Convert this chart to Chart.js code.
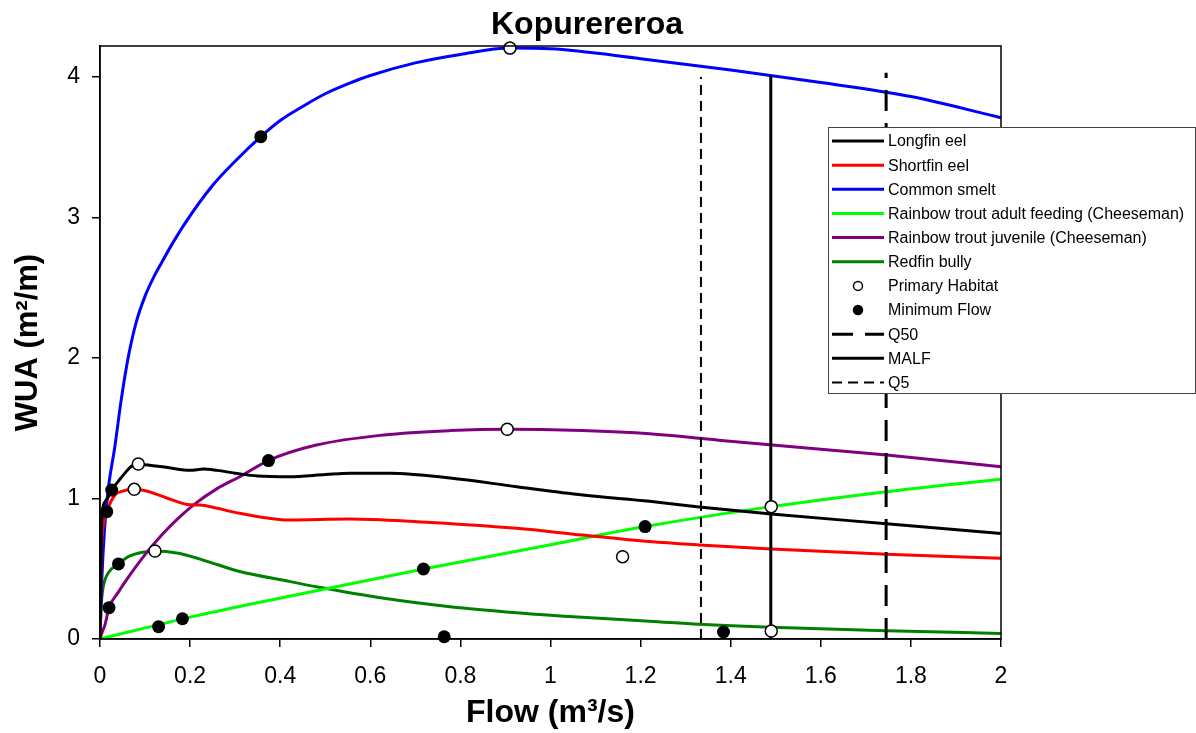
<!DOCTYPE html>
<html>
<head>
<meta charset="utf-8">
<title>Kopurereroa</title>
<script src="https://cdn.jsdelivr.net/npm/chart.js@4.4.0/dist/chart.umd.min.js"></script>
<style>
  html, body { margin: 0; padding: 0; background: #fff; }
</style>
</head>
<body>
<canvas id="chart" width="1196" height="733"></canvas>
<script>
// WUA curves: flow (m3/s) vs WUA (m2/m)
const longfinFlow = [0, 0.004, 0.01, 0.02, 0.026, 0.04, 0.055, 0.07, 0.085, 0.1, 0.15, 0.2, 0.23, 0.26, 0.3, 0.35, 0.42, 0.5, 0.555, 0.644, 0.777, 0.925, 1.072, 1.22, 1.33, 1.49, 1.746, 2.0];
const longfinWua = [0, 0.85, 0.97, 1.02, 1.06, 1.12, 1.18, 1.23, 1.245, 1.24, 1.22, 1.2, 1.21, 1.2, 1.18, 1.16, 1.155, 1.17, 1.18, 1.18, 1.146, 1.084, 1.025, 0.98, 0.94, 0.89, 0.82, 0.75];

const shortfinFlow = [0, 0.003, 0.008, 0.015, 0.033, 0.048, 0.076, 0.107, 0.151, 0.2, 0.222, 0.26, 0.31, 0.42, 0.555, 0.703, 0.925, 1.07, 1.22, 1.33, 1.49, 1.746, 2.0];
const shortfinWua = [0, 0.6, 0.82, 0.906, 1.025, 1.05, 1.065, 1.05, 1.0, 0.955, 0.954, 0.93, 0.895, 0.847, 0.854, 0.835, 0.788, 0.74, 0.693, 0.669, 0.64, 0.603, 0.574];

const smeltFlow = [0, 0.004, 0.01, 0.018, 0.033, 0.047, 0.063, 0.08, 0.1, 0.12, 0.137, 0.16, 0.189, 0.248, 0.3, 0.357, 0.4, 0.45, 0.5, 0.55, 0.6, 0.7, 0.8, 0.91, 1.0, 1.2, 1.4, 1.6, 1.8, 2.0];
const smeltWua = [0, 0.42, 0.78, 1.06, 1.37, 1.70, 2.01, 2.25, 2.44, 2.58, 2.68, 2.81, 2.96, 3.22, 3.40, 3.575, 3.69, 3.79, 3.88, 3.95, 4.01, 4.10, 4.16, 4.205, 4.2, 4.13, 4.05, 3.96, 3.86, 3.71];

const troutAdultFlow = [0, 0.21, 0.333, 0.718, 1.0, 1.21, 1.49, 1.746, 2.0];
const troutAdultWua = [0, 0.163, 0.247, 0.498, 0.671, 0.8, 0.942, 1.048, 1.137];

const troutJuvFlow = [0, 0.005, 0.011, 0.02, 0.04, 0.063, 0.1, 0.137, 0.174, 0.21, 0.26, 0.31, 0.374, 0.48, 0.63, 0.777, 0.904, 1.07, 1.22, 1.37, 1.6, 1.746, 2.0];
const troutJuvWua = [0, 0.05, 0.1, 0.223, 0.33, 0.44, 0.6, 0.74, 0.86, 0.96, 1.07, 1.155, 1.27, 1.38, 1.452, 1.483, 1.493, 1.483, 1.46, 1.416, 1.35, 1.31, 1.226];

const redfinFlow = [0, 0.002, 0.005, 0.01, 0.018, 0.041, 0.063, 0.1, 0.122, 0.174, 0.21, 0.26, 0.31, 0.42, 0.48, 0.63, 0.777, 0.925, 1.07, 1.22, 1.33, 1.49, 1.746, 2.0];
const redfinWua = [0, 0.2, 0.325, 0.41, 0.47, 0.534, 0.586, 0.62, 0.626, 0.61, 0.58, 0.53, 0.48, 0.41, 0.372, 0.29, 0.23, 0.187, 0.154, 0.127, 0.105, 0.083, 0.059, 0.04];

// marker points
const primaryFlow = [0.085, 0.076, 0.122, 0.91, 0.904, 1.16, 1.49, 1.49];
const primaryWua = [1.245, 1.065, 0.626, 4.205, 1.493, 0.586, 0.942, 0.057];
const minimumFlow = [0.015, 0.026, 0.041, 0.02, 0.357, 0.374, 0.13, 0.183, 0.718, 1.21, 0.764, 1.384];
const minimumWua = [0.906, 1.06, 0.534, 0.223, 3.575, 1.27, 0.088, 0.144, 0.498, 0.8, 0.016, 0.05];

// reference flows (vertical lines), x and top of line
const q50 = [1.745, 4.03];
const malf = [1.489, 4.01];
const q5 = [1.334, 4.0];

const xTicks = [0, 0.2, 0.4, 0.6, 0.8, 1, 1.2, 1.4, 1.6, 1.8, 2];
const yTicks = [0, 1, 2, 3, 4];

const FONT = "'Liberation Sans', Arial, Helvetica, sans-serif";

const pts = (xs, ys) => xs.map((x, i) => ({ x, y: ys[i] }));
const vline = (v) => [{ x: v[0], y: 0 }, { x: v[0], y: v[1] }];

function curve(label, xs, ys, color) {
  return {
    label, data: pts(xs, ys), showLine: true, borderColor: color, backgroundColor: color,
    borderWidth: 3, pointRadius: 0, cubicInterpolationMode: 'monotone', order: 2
  };
}
function refLine(label, v, width, dash) {
  return {
    label, data: vline(v), showLine: true, borderColor: '#000', borderWidth: width,
    borderDash: dash, pointRadius: 0, order: 1, borderCapStyle: 'butt'
  };
}

const datasets = [
  curve('Longfin eel', longfinFlow, longfinWua, '#000000'),
  curve('Shortfin eel', shortfinFlow, shortfinWua, '#ff0000'),
  curve('Common smelt', smeltFlow, smeltWua, '#0000ff'),
  curve('Rainbow trout adult feeding (Cheeseman)', troutAdultFlow, troutAdultWua, '#00ff00'),
  curve('Rainbow trout juvenile (Cheeseman)', troutJuvFlow, troutJuvWua, '#800080'),
  curve('Redfin bully', redfinFlow, redfinWua, '#008000'),
  { label: 'Primary Habitat', data: pts(primaryFlow, primaryWua), showLine: false, pointRadius: 6,
    pointBackgroundColor: '#fff', pointBorderColor: '#000', pointBorderWidth: 1.5, order: 0, clip: false },
  { label: 'Minimum Flow', data: pts(minimumFlow, minimumWua), showLine: false, pointRadius: 6.5,
    pointBackgroundColor: '#000', pointBorderColor: '#000', pointBorderWidth: 0, order: 0, clip: false },
  refLine('Q50', q50, 3, [21, 12]),
  refLine('MALF', malf, 3, []),
  refLine('Q5', q5, 2, [10, 6])
];

// title, frame and the boxed legend that sits over the right edge
const decor = {
  id: 'decor',
  afterDatasetsDraw(chart) {
    const { ctx, chartArea: a } = chart;
    ctx.save();
    ctx.strokeStyle = '#000';
    ctx.lineWidth = 1.5;
    ctx.strokeRect(a.left, a.top, a.right - a.left, a.bottom - a.top);

    ctx.fillStyle = '#000';
    ctx.font = 'bold 32px ' + FONT;
    ctx.textAlign = 'center';
    ctx.textBaseline = 'alphabetic';
    ctx.fillText('Kopurereroa', 587, 34);

    // legend
    const box = { l: 828.5, t: 127.5, r: 1195.5, b: 393.5 };
    ctx.fillStyle = '#fff';
    ctx.fillRect(box.l, box.t, box.r - box.l, box.b - box.t);
    ctx.strokeStyle = '#444';
    ctx.lineWidth = 1;
    ctx.strokeRect(box.l, box.t, box.r - box.l, box.b - box.t);
    ctx.font = '16px ' + FONT;
    ctx.textAlign = 'left';
    ctx.textBaseline = 'middle';
    chart.data.datasets.forEach((ds, i) => {
      const y = 141 + i * 24.15;
      if (ds.showLine) {
        ctx.beginPath();
        ctx.strokeStyle = ds.borderColor;
        ctx.lineWidth = ds.borderWidth;
        ctx.setLineDash(ds.borderDash || []);
        ctx.moveTo(832, y);
        ctx.lineTo(884, y);
        ctx.stroke();
        ctx.setLineDash([]);
      } else {
        ctx.beginPath();
        ctx.arc(858, y, 4.5, 0, Math.PI * 2);
        ctx.fillStyle = ds.pointBackgroundColor;
        ctx.fill();
        ctx.strokeStyle = '#000';
        ctx.lineWidth = 1.5;
        ctx.stroke();
      }
      ctx.fillStyle = '#000';
      ctx.fillText(ds.label, 888, y + 1);
    });
    ctx.restore();
  }
};

const fmt = v => String(Number(v.toFixed(1)));

new Chart(document.getElementById('chart'), {
  type: 'scatter',
  data: { datasets },
  plugins: [decor],
  options: {
    responsive: false,
    animation: false,
    devicePixelRatio: 1,
    events: [],
    layout: { padding: { left: 0, right: 195, top: 46, bottom: 0 } },
    plugins: { legend: { display: false }, title: { display: false }, tooltip: { enabled: false } },
    elements: { line: { tension: 0 } },
    scales: {
      x: {
        type: 'linear', min: xTicks[0], max: xTicks[xTicks.length - 1],
        afterFit: s => { s.height = 94; },
        afterBuildTicks: s => { s.ticks = xTicks.map(value => ({ value })); },
        ticks: { color: '#000', font: { family: FONT, size: 23 }, padding: 16, maxRotation: 0, autoSkip: false, callback: fmt },
        grid: { drawOnChartArea: false, drawTicks: true, tickLength: 8, color: '#000', lineWidth: 1.5 },
        border: { display: true, color: '#000', width: 1.5 },
        title: { display: true, text: 'Flow (m³/s)', color: '#000', font: { family: FONT, size: 32, weight: 'bold' }, padding: { top: 0, bottom: 1 } }
      },
      y: {
        type: 'linear', min: 0, max: 4.22,
        afterFit: s => { s.width = 100; },
        afterBuildTicks: s => { s.ticks = yTicks.map(value => ({ value })); },
        ticks: { color: '#000', font: { family: FONT, size: 23 }, padding: 12, callback: fmt },
        grid: { drawOnChartArea: false, drawTicks: true, tickLength: 8, color: '#000', lineWidth: 1.5 },
        border: { display: true, color: '#000', width: 1.5 },
        title: { display: true, text: 'WUA (m²/m)', color: '#000', font: { family: FONT, size: 31, weight: 'bold' }, padding: { top: 10, bottom: 0 } }
      }
    }
  }
});
</script>
</body>
</html>
